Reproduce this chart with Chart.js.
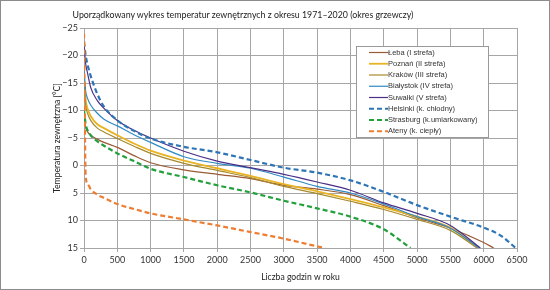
<!DOCTYPE html>
<html>
<head>
<meta charset="utf-8">
<script src="https://cdn.jsdelivr.net/npm/chart.js@4"></script>
<style>
body { margin: 0; background: #fff; }
#wrap { position: relative; width: 550px; height: 290px; }
#frame { position: absolute; left: 0; top: 0; width: 550px; height: 290px; box-sizing: border-box; border: 1px solid #8c8c8c; pointer-events: none; }
#title { position: absolute; left: 0; top: 9px; width: 486px; text-align: center; font: 8.8px Lato, sans-serif; line-height: 12px; color: #222; }
canvas { display: block; }
</style>
</head>
<body>
<div id="wrap">
<canvas id="chart" width="550" height="290"></canvas>
<div id="title">Uporządkowany wykres temperatur zewnętrznych z okresu 1971–2020 (okres grzewczy)</div>
<div id="frame"></div>
</div>
<script>
// godziny (oś X), wspólne dla wszystkich serii
const hours = [0, 25, 50, 100, 200, 300, 500, 750, 1000, 1500, 2000, 2500, 3000, 3500, 4000, 4500, 5000, 5500, 6000, 6250];

// temperatury [°C], null = seria już się skończyła
const leba      = [-10, -7, -6.2, -5.5, -4.8, -4.2, -3.3, -1.8, -0.5, 0.8, 1.6, 2.4, 3.6, 4.3, 5.3, 7.3, 9.5, 11.4, 14, null];
const poznan    = [-16, -12, -10.5, -9, -7.5, -6.8, -5.5, -4, -2.7, -0.9, 0.5, 1.9, 3.4, 4.7, 6.1, 7.6, 9.3, 11.3, null, null];
const krakow    = [-15, -11, -9.6, -8.2, -6.8, -6.1, -4.9, -3.5, -2.2, -0.4, 0.9, 2.2, 3.8, 5.1, 6.5, 8.0, 9.8, 11.8, null, null];
const bialystok = [-17.5, -13.5, -12.3, -11, -9.5, -8.4, -7.2, -5.6, -4.2, -1.6, -0.4, 0.5, 2.1, 3.8, 5.0, 7.0, 9.3, 11.4, null, null];
const suwalki   = [-22, -18.5, -17, -14.2, -11.8, -10.4, -8.2, -6.4, -5.0, -2.6, -0.8, 0.4, 1.6, 3.0, 4.5, 6.8, 8.7, 10.9, null, null];
const helsinki  = [-22.5, -20, -18.5, -16.3, -13, -10.7, -8.2, -6.3, -4.9, -3.4, -2.4, -1.0, 0.4, 1.3, 2.7, 4.8, 7.2, 9.3, 11.3, 12.7];
const strasburg = [-10, -7.5, -6.5, -5.5, -4.4, -3.6, -2.2, -0.8, 0.6, 2.1, 3.6, 4.9, 6.4, 7.8, 9.3, 11.6, null, null, null, null];
const ateny     = [-24, 1.8, 3.2, 4.3, 5.3, 5.9, 7.0, 7.9, 8.7, 9.8, 10.9, 12.1, 13.3, 14.7, null, null, null, null, null, null];

// godzina, w której każda krzywa dochodzi do 15 °C
const endHours = [6150, 5920, 5900, 5930, 5950, 6480, 4900, 3620];
const endTemp = 15;

const names = ['Łeba (I strefa)', 'Poznań (II strefa)', 'Kraków (III strefa)', 'Białystok (IV strefa)',
               'Suwałki (V strefa)', 'Helsinki (k. chłodny)', 'Strasburg (k.umiarkowany)', 'Ateny (k. ciepły)'];
const series = [leba, poznan, krakow, bialystok, suwalki, helsinki, strasburg, ateny];

const colors = ['#9a5a35', '#e8b424', '#a88a2c', '#2f8ac4', '#4a2f86', '#2e75b6', '#22a03c', '#ed7d31'];
const widths = [1.2, 1.8, 1.2, 1.2, 1.2, 2.2, 2.2, 2.2];
const dashes = [[], [], [], [], [], [5, 3], [5, 3], [5, 3]];

const datasets = series.map((vals, i) => {
    const pts = [];
    vals.forEach((v, j) => { if (v !== null) pts.push({ x: hours[j], y: v }); });
    pts.push({ x: endHours[i], y: endTemp });
    return {
        label: names[i],
        data: pts,
        borderColor: colors[i],
        backgroundColor: colors[i],
        borderWidth: widths[i],
        borderDash: dashes[i],
        pointRadius: 0,
        fill: false,
        cubicInterpolationMode: 'monotone',
        order: names.length - i
    };
});

// legenda w ramce wewnątrz wykresu
const legendBox = {
    id: 'legendBox',
    afterDatasetsDraw(chart) {
        const ctx = chart.ctx;
        const x = 356, y = 46, w = 132, h = 91;
        ctx.save();
        ctx.fillStyle = '#fff';
        ctx.fillRect(x, y, w, h);
        ctx.strokeStyle = '#9a9a9a';
        ctx.lineWidth = 1;
        ctx.strokeRect(x + 0.5, y + 0.5, w, h);
        ctx.font = '7.5px "Liberation Sans", Arial, sans-serif';
        ctx.textBaseline = 'middle';
        chart.data.datasets.forEach((ds, i) => {
            const cy = y + 6.5 + i * 11.25;
            ctx.strokeStyle = ds.borderColor;
            ctx.lineWidth = ds.borderWidth;
            ctx.setLineDash(ds.borderDash);
            ctx.beginPath();
            ctx.moveTo(369, cy);
            ctx.lineTo(388, cy);
            ctx.stroke();
            ctx.setLineDash([]);
            ctx.fillStyle = '#333';
            ctx.fillText(ds.label, 388, cy);
        });
        ctx.restore();
    }
};

const tickFont = { family: 'Lato', size: 9 };
const titleFont = { family: 'Lato', size: 8.6 };

new Chart(document.getElementById('chart'), {
    type: 'line',
    data: { datasets: datasets },
    options: {
        responsive: false,
        animation: false,
        layout: { padding: { left: 46, top: 28, right: 33, bottom: 0 } },
        plugins: {
            legend: { display: false },
            tooltip: { enabled: false }
        },
        scales: {
            x: {
                type: 'linear',
                min: 0,
                max: 6500,
                ticks: { stepSize: 500, color: '#333', font: tickFont, padding: 3, maxRotation: 0,
                         callback: v => String(v) },
                grid: { color: '#a6a6a6', tickLength: 4 },
                border: { color: '#a6a6a6' },
                title: { display: true, text: 'Liczba godzin w roku', color: '#222', font: titleFont, padding: { top: 0, bottom: 8 } },
                afterFit(scale) { scale.height = 42; }
            },
            y: {
                reverse: true,
                min: -25,
                max: 15,
                ticks: {
                    stepSize: 5, color: '#333', font: tickFont, padding: 2,
                    callback: v => v < 0 ? '\u2212' + Math.abs(v) : String(v)
                },
                grid: { color: '#a6a6a6', tickLength: 4 },
                border: { color: '#a6a6a6' },
                title: { display: true, text: 'Temperatura zewnętrzna [°C]', color: '#222', font: titleFont, padding: { top: 6, bottom: 0 } },
                afterFit(scale) { scale.width = 38; }
            }
        }
    },
    plugins: [legendBox]
});
</script>
</body>
</html>
